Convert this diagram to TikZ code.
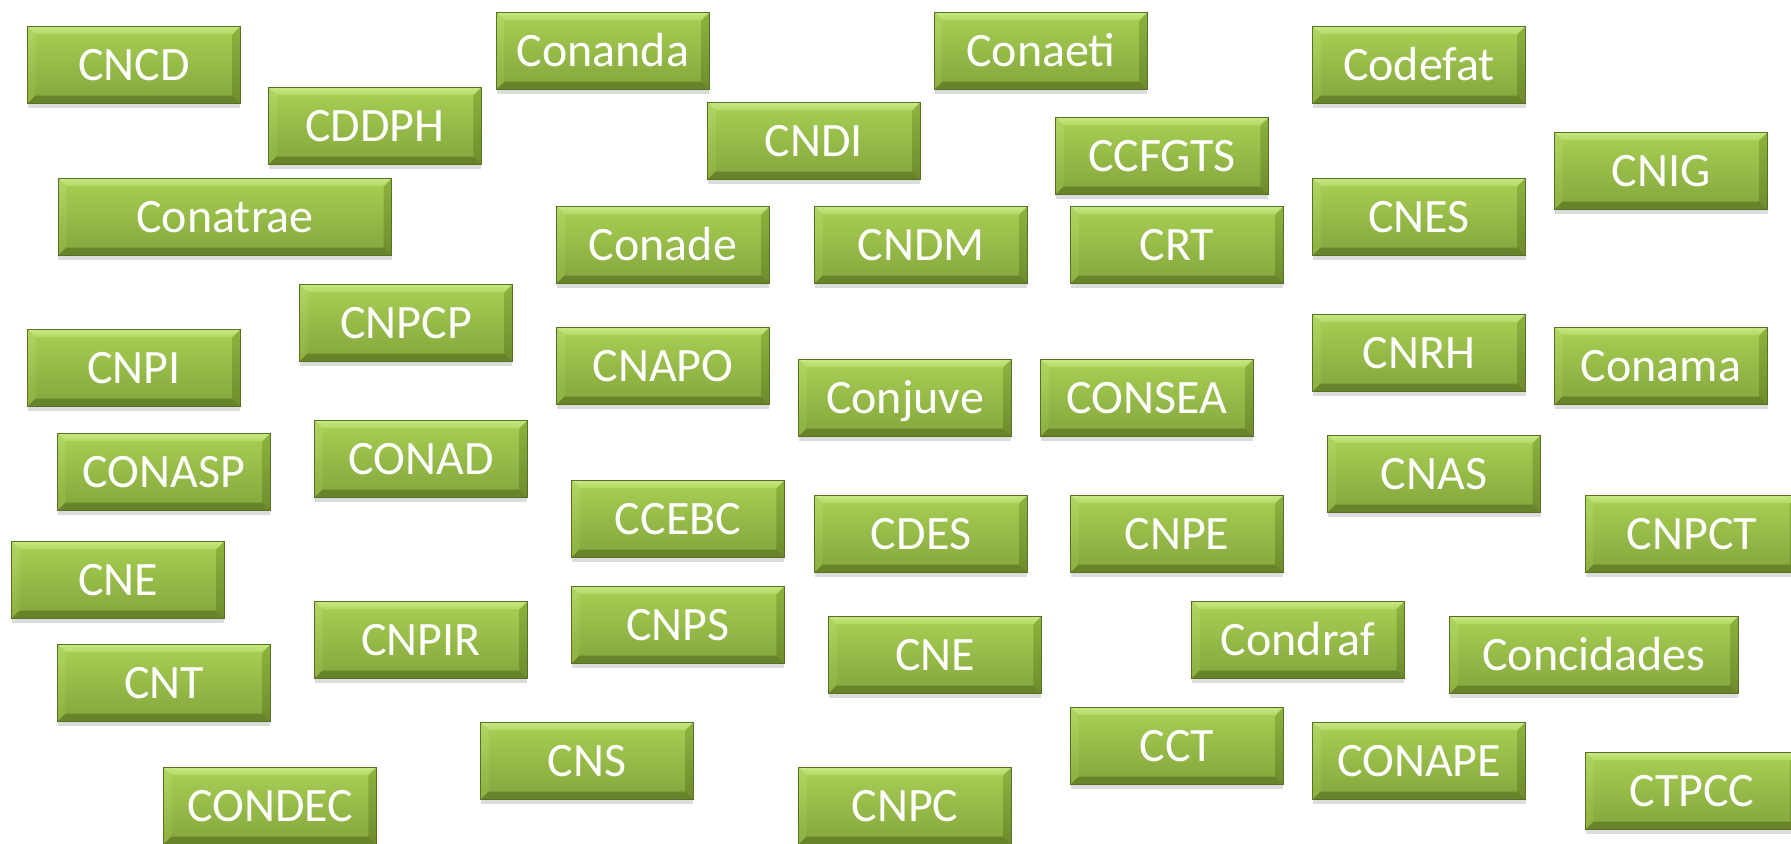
\documentclass[tikz,border=0pt]{standalone}
\usepackage{fontspec}
\setmainfont{Carlito}
\usetikzlibrary{calc,shadows}
\definecolor{faceT}{RGB}{168,208,84}
\definecolor{faceB}{RGB}{132,165,60}
\definecolor{bevTT}{RGB}{200,232,130}
\definecolor{bevTB}{RGB}{176,216,100}
\definecolor{bevLT}{RGB}{176,214,98}
\definecolor{bevLB}{RGB}{140,175,64}
\definecolor{bevRT}{RGB}{140,180,62}
\definecolor{bevRB}{RGB}{110,140,44}
\definecolor{bevB}{RGB}{104,132,42}
\definecolor{edge}{RGB}{88,112,36}
\newcommand{\bv}{0.16cm}
\tikzset{
  council/.style={draw=edge, line width=0.5pt, top color=faceT, bottom color=faceB,
    minimum width=4.26cm, minimum height=1.546cm, inner sep=0pt,
    text=white, font=\fontsize{27.3}{30}\selectfont, text height=17.6pt, text depth=0pt,
    drop shadow={opacity=0.28, shadow xshift=0pt, shadow yshift=-0.08cm},
    path picture={
      \coordinate (kNW) at (path picture bounding box.north west);
      \coordinate (kNE) at (path picture bounding box.north east);
      \coordinate (kSW) at (path picture bounding box.south west);
      \coordinate (kSE) at (path picture bounding box.south east);
      \shade[top color=bevTT, bottom color=bevTB](kNW)--(kNE)--($(kNE)+(-\bv,-\bv)$)--($(kNW)+(\bv,-\bv)$)--cycle;
      \shade[top color=bevLT, bottom color=bevLB](kNW)--($(kNW)+(\bv,-\bv)$)--($(kSW)+(\bv,\bv)$)--(kSW)--cycle;
      \shade[top color=bevRT, bottom color=bevRB](kNE)--($(kNE)+(-\bv,-\bv)$)--($(kSE)+(-\bv,\bv)$)--(kSE)--cycle;
      \fill[bevB](kSW)--(kSE)--($(kSE)+(-\bv,\bv)$)--($(kSW)+(\bv,\bv)$)--cycle;
    }}
}
\begin{document}
\begin{tikzpicture}[x=0.02cm,y=-0.02cm]
\useasboundingbox (0,0) rectangle (1791,844);
\node[council](cncd)at(134,65){CNCD};
\node[council](conanda)at(603,51){Conanda};
\node[council](conaeti)at(1041,51){Conaeti};
\node[council](codefat)at(1419,65){Codefat};
\node[council](cddph)at(375,126){CDDPH};
\node[council](cndi)at(814,141){CNDI};
\node[council](ccfgts)at(1162,156){CCFGTS};
\node[council](cnig)at(1661,171){CNIG};
%
\node[council,minimum width=6.67cm](conatrae)at(225,217){Conatrae};
\node[council](conade)at(663,245){Conade};
\node[council](cndm)at(921,245){CNDM};
\node[council](crt)at(1177,245){CRT};
\node[council](cnes)at(1419,217){CNES};
\node[council](cnpcp)at(406,323){CNPCP};
\node[council](cnpi)at(134,368){CNPI};
\node[council](cnapo)at(663,366){CNAPO};
\node[council](conjuve)at(905,398){Conjuve};
\node[council](consea)at(1147,398){CONSEA};
\node[council](cnrh)at(1419,353){CNRH};
\node[council](conama)at(1661,366){Conama};
%
\node[council](conasp)at(164,472){CONASP};
\node[council](conad)at(421,459){CONAD};
\node[council](cnas)at(1434,474){CNAS};
\node[council](ccebc)at(678,519){CCEBC};
\node[council](cdes)at(921,534){CDES};
\node[council](cnpe)at(1177,534){CNPE};
\node[council](cnpct)at(1692,534){CNPCT};
\node[council](cneA)at(118,580){CNE};
\node[council](cnpir)at(421,640){CNPIR};
\node[council](cnps)at(678,625){CNPS};
\node[council](cneB)at(935,655){CNE};
\node[council](condraf)at(1298,640){Condraf};
\node[council,minimum width=5.77cm](concidades)at(1594,655){Concidades};
%
\node[council](cnt)at(164,683){CNT};
\node[council](cns)at(587,761){CNS};
\node[council](cct)at(1177,746){CCT};
\node[council](conape)at(1419,761){CONAPE};
\node[council](ctpcc)at(1692,791){CTPCC};
\node[council](condec)at(270,806){CONDEC};
\node[council](cnpc)at(905,806){CNPC};
\end{tikzpicture}
\end{document}
